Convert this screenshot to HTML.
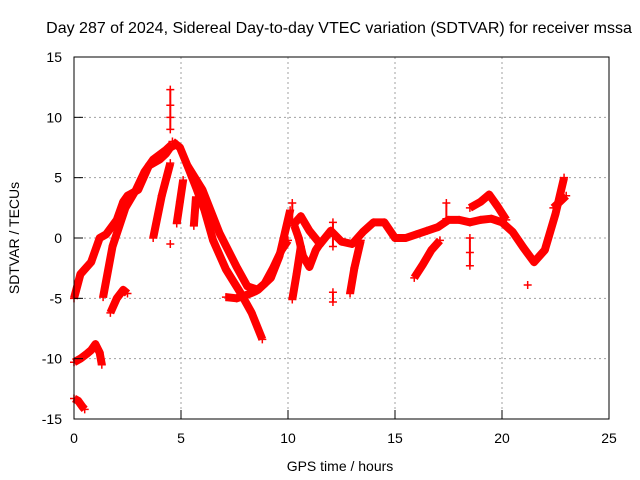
<!DOCTYPE html>
<html><head><meta charset="utf-8"><style>
body{margin:0;background:#fff}
svg{display:block;font-family:"Liberation Sans",sans-serif}
</style></head><body>
<svg id="c" width="640" height="480">
<text x="339" y="33" font-size="16" text-anchor="middle">Day 287 of 2024, Sidereal Day-to-day VTEC variation (SDTVAR) for receiver mssa</text>
<text x="340" y="471" font-size="14" text-anchor="middle">GPS time / hours</text>
<text x="19" y="238" font-size="14" text-anchor="middle" transform="rotate(-90 19 238)">SDTVAR / TECUs</text>
<g id="grid"></g><g id="marks"></g>
<rect x="74" y="57" width="535" height="362" fill="none" stroke="#000" stroke-width="1"/>
<g id="axes"></g>
</svg>
<script>
const xTicks=[0,5,10,15,20,25];
const yTicks=[-15,-10,-5,0,5,10,15];
const trackTimes=[
[0,0.3,0.8,1.2,1.5,2,2.3,2.5,3,3.5,4,4.3,4.5,4.8],
[1.36,1.8,2.4,2.9,3.3,3.7,4.3,4.6],
[1.7,2,2.3,2.5],
[4.6,4.95,5.3,5.7,6.1,6.5,7.1,7.8,8.3,8.8],
[5.3,6,6.8,7.6,8.1,8.6,9.2,9.6,10.1],
[7.1,7.6,8.1,8.5,8.9,9.3,9.7,10],
[4.5,4.1,3.7],[5.1,4.95,4.8],[5.7,5.6],
[0,0.3,0.6,0.8,1,1.2,1.3],[0,0.2,0.4,0.5],
[10.2,10.6,11,11.5,12,12.5,13,13.5,14,14.5,15,15.5,16,16.5,17,17.5,18,18.5,19,19.5,20,20.5,21,21.5,22,22.5,22.9],
[10.3,10.5,10.7,11,11.3,11.6],
[10.6,10.4,10.2],
[15.9,16.3,16.7,17.1],[12.9,13.1,13.4],
[18.5,19,19.4,19.8,20.2],
[22.4,22.7,23],
[4.5,4.5,4.5,4.5],[4.5],[21.2],[18.5,18.5,18.5],[17.4,17.4],[12.1,12.1,12.1],[12.1,12.1],[10.2,10.2]
];
const trackValues=[
[-5,-3,-2,0,0.3,1.5,3,3.5,4,6,6.5,7,7.5,7.8],
[-4.9,-0.7,2.5,4,5.5,6.5,7.3,7.8],
[-6.2,-5,-4.3,-4.6],
[8,7.5,6,4.2,2.3,-0.2,-2.6,-4.6,-6.2,-8.4],
[6,4,0.4,-2.4,-4,-4.3,-3.3,-1.5,2.3],
[-4.9,-5,-4.7,-4.4,-3.8,-2.5,-1,-0.2],
[6.2,3.5,0],[4.8,3,1.2],[3.4,1],
[-10.3,-10,-9.6,-9.3,-8.8,-9.5,-10.5],[-13.3,-13.5,-14,-14.2],
[1,1.8,0.6,-0.5,0.6,-0.3,-0.5,0.5,1.3,1.3,0,0,0.3,0.6,0.9,1.5,1.5,1.3,1.5,1.6,1.3,0.5,-0.8,-2,-1,2,5],
[1,0,-1.5,-2.4,-1,-0.2],
[-0.7,-3,-5.1],
[-3.3,-2.2,-1,-0.2],[-4.6,-2.5,-0.2],
[2.5,3,3.6,2.6,1.5],
[2.5,3,3.5],
[9,10,11,12.3],[-0.5],[-3.9],[0,-1.2,-2.3],[2.9,1.6],[1.3,0.3,-0.7],[-4.5,-5.3],[2.9,1.5]
];
const X=t=>74+t*21.4, Y=v=>238-v*12.067;
const ns="http://www.w3.org/2000/svg";
const grid=document.getElementById('grid'),axes=document.getElementById('axes'),marks=document.getElementById('marks');
function mk(tag,at,parent){const e=document.createElementNS(ns,tag);for(const k in at)e.setAttribute(k,at[k]);parent.appendChild(e);return e;}
xTicks.forEach(t=>{
 if(t>0&&t<25){const g=mk('line',{x1:X(t),x2:X(t),y1:57,y2:419,stroke:'#a0a0a0','stroke-dasharray':'2,3'},grid);
 
 }
 const tk=mk('line',{x1:X(t),x2:X(t),y1:419,y2:410,stroke:'#000'},axes);
 
 
 const l=mk('text',{x:X(t),y:443,'font-size':14,'text-anchor':'middle'},axes);l.textContent=t;
 
 
});
yTicks.forEach(v=>{
 if(v>-15&&v<15){const g=mk('line',{x1:74,x2:609,y1:Y(v),y2:Y(v),stroke:'#a0a0a0','stroke-dasharray':'2,3'},grid);
 
 }
 const tk=mk('line',{x1:74,x2:83,y1:Y(v),y2:Y(v),stroke:'#000'},axes);
 
 
 const l=mk('text',{x:62,y:Y(v)+5,'font-size':14,'text-anchor':'end'},axes);l.textContent=v;
 
 
});
trackTimes.forEach((ts,i)=>{
 const vs=trackValues[i];
 const pts=ts.map((t,j)=>X(t)+','+Y(vs[j])).join(' ');
 const vertical=ts.every(t=>t===ts[0]);
 if(ts.length>1){const p=mk('polyline',{points:pts,fill:'none',stroke:'#f00','stroke-width':vertical?2:8,'stroke-linejoin':'round','stroke-linecap':'butt'},marks);
 
 }
 ts.forEach((t,j)=>{
  const x=X(t),y=Y(vs[j]);
  const m=mk('path',{d:`M${x-4},${y}h8M${x},${y-4}v8`,stroke:'#f00','stroke-width':1.5},marks);
  
  
 });
});
</script>
</body></html>
